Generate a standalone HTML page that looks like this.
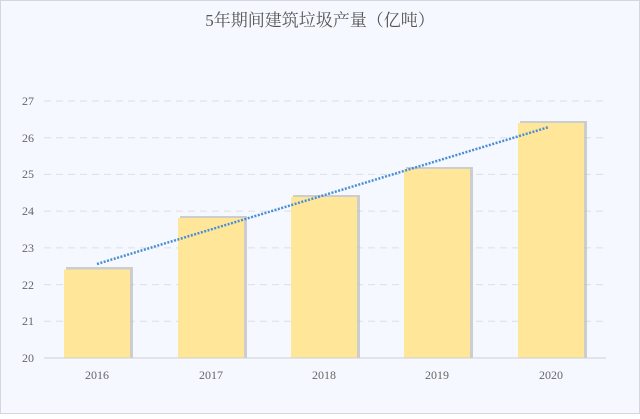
<!DOCTYPE html><html><head><style>body{margin:0;background:#fff}</style></head><body>
<svg width="640" height="414" xmlns="http://www.w3.org/2000/svg" font-family="'Liberation Serif','Noto Serif CJK SC',serif">
<rect x="0.5" y="0.5" width="639" height="413" fill="#f5f8fe" stroke="#d4d8de"/>
<text x="320" y="26" text-anchor="middle" font-size="17" fill="#555" font-family="'Liberation Serif','Noto Serif CJK SC',serif">5年期间建筑垃圾产量（亿吨）</text>
<g stroke="#dcdfe4" stroke-dasharray="7,5">
<line x1="44" x2="606" y1="321.3" y2="321.3"/><line x1="44" x2="606" y1="284.6" y2="284.6"/><line x1="44" x2="606" y1="247.9" y2="247.9"/><line x1="44" x2="606" y1="211.1" y2="211.1"/><line x1="44" x2="606" y1="174.4" y2="174.4"/><line x1="44" x2="606" y1="137.7" y2="137.7"/><line x1="44" x2="606" y1="101" y2="101"/></g>
<g font-size="12" fill="#666" text-anchor="end">
<text x="34" y="362">20</text><text x="34" y="325">21</text><text x="34" y="289">22</text><text x="34" y="252">23</text><text x="34" y="215">24</text><text x="34" y="178">25</text><text x="34" y="142">26</text><text x="34" y="105">27</text></g>
<g fill="#bbb" opacity="0.7">
<rect x="66" y="267" width="67" height="91"/><rect x="180" y="216" width="67" height="142"/><rect x="293" y="195" width="67" height="163"/><rect x="406" y="167" width="67" height="191"/><rect x="520" y="121" width="67" height="237"/></g>
<g fill="#ffe699">
<rect x="64" y="269.5" width="66" height="88.5"/><rect x="178" y="218" width="66" height="140"/><rect x="291" y="197" width="66" height="161"/><rect x="404" y="169" width="66" height="189"/><rect x="518" y="123" width="66" height="235"/></g>
<line x1="44" x2="606" y1="358" y2="358" stroke="#d0d0d0"/>
<line x1="97" y1="264" x2="549" y2="127" stroke="#4a8fd6" stroke-width="2.5" stroke-dasharray="2,1.5"/>
<g font-size="12" fill="#666" text-anchor="middle">
<text x="97" y="379">2016</text><text x="211" y="379">2017</text><text x="324" y="379">2018</text><text x="437" y="379">2019</text><text x="551" y="379">2020</text></g>
</svg></body></html>
